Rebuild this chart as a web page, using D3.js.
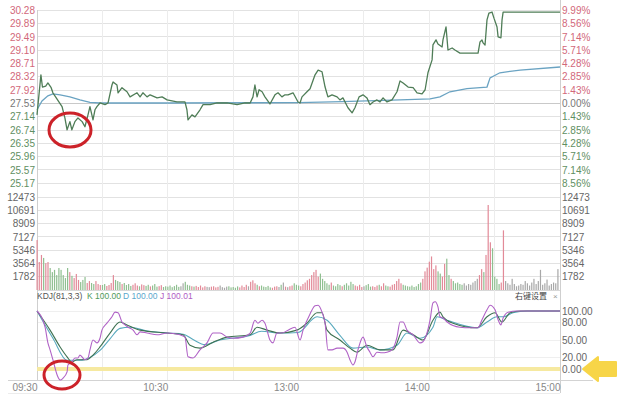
<!DOCTYPE html>
<html><head><meta charset="utf-8">
<script src="https://cdn.jsdelivr.net/npm/d3@7/dist/d3.min.js"></script>
<style>
html,body{margin:0;padding:0;background:#fff;}
svg{display:block;font-family:"Liberation Sans",Arial,sans-serif;}
</style></head>
<body><svg id="c" width="640" height="404"></svg>
<script>
// ---------- DATA ----------
const timeLabels = ["09:30","10:30","13:00","14:00","15:00"];
const timeTicks = [0,60,120,180,240];
const priceTicks = [30.28,29.89,29.49,29.10,28.71,28.32,27.92,27.53,27.14,26.74,26.35,25.96,25.57,25.17];
const pctLabels = ["9.99%","8.56%","7.14%","5.71%","4.28%","2.85%","1.43%","0.00%","1.43%","2.85%","4.28%","5.71%","7.14%","8.56%"];
const prevClose = 27.53;
const volTicks = [12473,10691,8909,7127,5346,3564,1782];
const kdjTicks = [100,80,50,20,0];
const kdjTickLabels = ["100.00","80.00","50.00","20.00","0.00"];
const kdjLegend = ["KDJ(81,3,3)","K 100.00","D 100.00","J 100.01"];

const priceMin = [0,1.8,2.5,4,5,6.5,7.3,11.5,12.8,13.8,15.1,16,17.4,18.8,20.7,22,23.4,24.3,25.7,26.6,27.5,28.9,31.2,32.6,34.4,34.9,36.7,37.2,39,41.3,42.7,45.9,47.3,48.6,50.5,51.9,55.1,57.4,59.7,64.2,67.9,68.8,69.3,71.1,72.5,74.8,76.2,79.4,82.6,87.2,91.8,95.5,97.8,99.1,100,101,101.9,103.3,104.6,106.9,109.2,110.6,112.4,113.8,115.2,117.5,119.8,120.7,121.6,123.9,125.3,127.6,129,130.8,132.2,133.5,135.4,137.7,139,140.4,142.7,144.6,145.9,147.8,149.6,151.4,152.8,154.2,156,157.4,158.8,160.6,162.9,165.2,166.6,168,170.3,172.6,174.4,176.7,178.1,179.4,181.3,181.7,183.1,184,185.9,186.3,187.7,188.6,190.5,191.8,194.1,197.3,202.4,203.3,204.2,204.7,205.6,206.5,207.4,208.8,209.7,211.1,211.6,212.9,213.4,213.9,240];
const priceVal = [27.19,28.37,28.01,28.04,28.13,27.99,27.84,27.43,27.10,26.75,26.99,26.75,26.99,27.10,26.99,26.84,27.19,27.43,27.04,27.34,27.43,27.54,27.49,27.54,28.07,28.16,28.07,27.84,27.99,27.87,27.72,27.84,27.72,27.84,27.72,27.78,27.69,27.72,27.63,27.57,27.57,27.34,27.04,27.19,27.13,27.34,27.49,27.49,27.54,27.54,27.49,27.54,27.54,27.72,28.07,27.72,27.93,27.87,27.72,27.51,27.78,27.84,27.72,27.78,27.78,27.84,27.57,27.54,27.72,27.87,27.96,28.37,28.51,28.46,28.01,27.72,27.78,27.72,27.63,27.69,27.40,27.25,27.40,27.72,27.78,27.69,27.49,27.57,27.63,27.57,27.69,27.57,27.63,27.87,28.19,28.13,28.01,27.99,27.84,27.81,27.93,28.43,28.81,29.25,29.40,29.28,29.19,29.40,29.78,29.10,29.16,29.10,29.01,29.01,29.01,29.34,29.40,29.31,29.25,29.99,30.19,30.22,30.04,29.78,29.49,29.46,29.99,30.22,30.22];

const avgMin = [0,2.3,5,7.3,10.6,15.1,19.7,24.3,28.9,60,120,140,166.6,180.4,184.9,189.5,197.3,203.3,206.5,207.9,212.4,221.7,240];
const avgVal = [27.34,27.60,27.75,27.81,27.78,27.72,27.63,27.56,27.54,27.54,27.55,27.58,27.63,27.66,27.72,27.87,27.96,27.99,28.01,28.28,28.43,28.51,28.60];

const volume = [
6700,3750,4700,4300,3600,3750,2950,2400,2700,2000,
2950,2700,2000,1600,2950,2400,1900,1600,2150,1350,
1070,1350,1750,940,1200,940,800,1200,800,670,
670,800,540,670,940,2000,1350,1200,1070,800,
940,670,800,540,700,900,600,500,750,650,
550,700,480,600,800,450,520,650,400,500,
450,600,380,520,700,420,500,900,1100,700,
600,500,450,550,400,600,350,500,420,380,
450,500,350,420,600,380,300,450,500,350,
400,300,480,350,600,400,700,500,1100,1300,
900,700,500,600,450,400,550,350,300,450,
500,400,700,1000,450,380,500,600,900,700,
600,500,800,1000,1300,1500,2000,2400,2700,1800,
2200,1500,1200,900,700,1000,600,500,800,650,
500,700,900,600,1100,800,600,500,700,400,
500,650,800,450,500,400,600,700,500,900,
600,500,450,700,800,1200,1500,900,700,600,
500,450,600,400,500,800,1000,1500,2500,3000,
3800,4500,2800,3300,2500,2200,1800,3500,4200,2000,
1500,1200,900,1000,800,700,900,600,800,700,
1000,1200,1500,2000,2800,2400,4700,11400,6400,5600,
1800,1500,800,1000,8000,1200,900,700,1500,800,
500,600,800,700,1200,900,600,1000,1500,800,
1200,2700,700,900,1400,600,800,1000,900,2800];

const jMin = [0,3.7,5,6,7.3,9.2,10.6,11.9,13.8,14.2,16,17.4,18.8,19.7,22,23.4,24.3,25.7,27.5,28.9,29.8,32.1,34.4,35.8,37.2,39,40.4,41.8,44.1,45.9,47.3,50.5,55.1,59.7,65.6,67.9,69.3,71.6,74.8,78,80.8,84,87.2,90,94.5,97.8,100,101.4,103.3,104.6,106.9,108.3,110.1,112.4,115.2,118.4,120.7,122.1,125.3,127.6,129,130.8,132.2,133.5,135.4,137.7,140.4,142.3,143.6,145,145.9,147.3,149.6,151.4,152.8,154.2,156,158.3,160.6,162.9,165.2,166.6,168,169.8,172.6,175.8,177.1,180.4,181.7,182.7,184,184.9,186.3,188.2,194.1,198.7,202.4,204.2,206.5,207.9,210.2,211.6,212.9,213.9,216.2,220.3,240];
const jVal = [100,72,45,33,16,-10,-19,-16,-5,7,12,19,19,24,16,19,33,50,45,53,67,79,90,98,97,81,76,72,67,59,64,62,59,62,59,55,21,19,33,45,62,62,55,53,55,62,84,79,84,79,50,45,62,62,67,72,50,67,95,109,110,98,79,33,33,36,36,29,16,7,12,33,55,38,29,21,29,28,29,33,55,81,81,67,59,45,47,85,114,116,107,90,88,81,72,71,71,85,102,110,102,85,76,88,98,100,100];
const kMin = [0,6,10.6,13.8,16,18.4,22.9,25.7,28.9,33.5,38.1,41.3,47.3,59.7,67,70.2,74.8,80.8,87.2,97.8,101,105.6,111.5,119.3,123.9,128.5,130.8,133.1,139,143.6,146.9,151.4,157.4,163.4,168,172.6,177.1,181.7,184.9,186.3,190.9,201.9,206.5,210.2,213.4,217.1,221.7,240];
const kVal = [100,67,38,21,12,16,16,24,38,62,81,76,67,62,59,41,36,46,55,59,72,67,62,67,79,97,97,67,50,36,29,41,33,33,67,59,50,84,98,90,79,71,90,97,81,97,100,100];
const dMin = [0,7.3,13.8,19.7,24.3,28.9,33.5,38.1,42.7,50,60,67,72,77,84,97.8,103,111.5,119.8,128.5,133.1,139,145,151.4,157.4,165.2,169.8,175.8,181.7,183.6,188.2,201.9,206.5,211.1,213.9,218.4,224.9,240];
const dVal = [100,53,15,15,20,32,52,70,72,66,62,60,50,42,50,58,65,62,63,90,84,58,36,38,33,41,62,53,72,90,84,71,81,90,90,97,100,100];

// ---------- DRAW ----------
const svg = d3.select("#c");
const L = 37, R = 560;
const x = d3.scaleLinear().domain([0,240]).range([L,R]);
const yP = d3.scaleLinear().domain([25.17,30.28]).range([183.4,10]);
const yV = d3.scaleLinear().domain([0,12473]).range([290,197]);
const yK = d3.scaleLinear().domain([0,100]).range([369,311]);

const upC = "#d2687a", dnC = "#5f8f62", grid = "#e2e2e2";

const g = svg.append("g");
priceTicks.forEach(v=>g.append("line").attr("x1",L).attr("x2",R).attr("y1",yP(v)).attr("y2",yP(v))
  .attr("stroke", v===prevClose ? "#c9c9c9" : grid).attr("stroke-width",1).attr("shape-rendering","crispEdges"));
g.append("line").attr("x1",L).attr("x2",R).attr("y1",yV(12473)+0.5).attr("y2",yV(12473)+0.5).attr("stroke",grid);
volTicks.slice(1).forEach(v=>g.append("line").attr("x1",L).attr("x2",R).attr("y1",yV(v)).attr("y2",yV(v))
  .attr("stroke",grid).attr("shape-rendering","crispEdges"));
g.append("line").attr("x1",L).attr("x2",R).attr("y1",yV(0)).attr("y2",yV(0)).attr("stroke","#d8d8d8").attr("shape-rendering","crispEdges");
kdjTicks.forEach(v=>g.append("line").attr("x1",L).attr("x2",R).attr("y1",yK(v)).attr("y2",yK(v))
  .attr("stroke","#efefef").attr("shape-rendering","crispEdges"));
[30,60,90,120,150,180,210].forEach(m=>g.append("line").attr("x1",x(m)).attr("x2",x(m)).attr("y1",10).attr("y2",380)
  .attr("stroke","#ececec").attr("shape-rendering","crispEdges"));
g.append("line").attr("x1",L).attr("x2",L).attr("y1",10).attr("y2",380).attr("stroke","#cfcfcf").attr("shape-rendering","crispEdges");
g.append("line").attr("x1",R).attr("x2",R).attr("y1",0).attr("y2",393).attr("stroke","#cfcfcf").attr("shape-rendering","crispEdges");
g.append("line").attr("x1",8).attr("x2",593).attr("y1",380).attr("y2",380).attr("stroke","#d3d3d3").attr("shape-rendering","crispEdges");
g.append("line").attr("x1",8).attr("x2",R).attr("y1",393).attr("y2",393).attr("stroke","#ececec").attr("shape-rendering","crispEdges");

function styleAxis(sel){ sel.select(".domain").remove(); sel.selectAll("line").remove();
  sel.selectAll("text").attr("font-size",10).attr("font-family","'Liberation Sans',Arial,sans-serif"); }
const colorFor = v => v>prevClose ? upC : (v<prevClose ? dnC : "#777");
svg.append("g").attr("transform",`translate(${L-2},0)`)
  .call(d3.axisLeft(yP).tickValues(priceTicks).tickFormat(d3.format(".2f")).tickSize(0).tickPadding(0))
  .call(styleAxis).selectAll("text").attr("fill",d=>colorFor(d));
svg.append("g").attr("transform",`translate(${R+2},0)`)
  .call(d3.axisRight(yP).tickValues(priceTicks).tickFormat((d,i)=>pctLabels[i]).tickSize(0).tickPadding(0))
  .call(styleAxis).selectAll("text").attr("fill",d=>colorFor(d));
svg.append("g").attr("transform",`translate(${L-2},0)`)
  .call(d3.axisLeft(yV).tickValues(volTicks).tickFormat(d3.format("d")).tickSize(0).tickPadding(0))
  .call(styleAxis).selectAll("text").attr("fill","#666");
svg.append("g").attr("transform",`translate(${R+2},0)`)
  .call(d3.axisRight(yV).tickValues(volTicks).tickFormat(d3.format("d")).tickSize(0).tickPadding(0))
  .call(styleAxis).selectAll("text").attr("fill","#666");
svg.append("g").attr("transform",`translate(${R+2},0)`)
  .call(d3.axisRight(yK).tickValues(kdjTicks).tickFormat((d,i)=>kdjTickLabels[i]).tickSize(0).tickPadding(0))
  .call(styleAxis).selectAll("text").attr("fill","#666");
const tax = svg.append("g").attr("transform",`translate(0,382)`)
  .call(d3.axisBottom(x).tickValues(timeTicks).tickFormat((d,i)=>timeLabels[i]).tickSize(0).tickPadding(0))
  .call(styleAxis);
tax.selectAll("text").attr("fill","#888").attr("text-anchor","end").attr("dy","0.9em");

const pAt = d3.scaleLinear().domain(priceMin).range(priceVal);
svg.append("g").selectAll("rect").data(volume).join("rect")
  .attr("x",(d,i)=>x(i)-0.5).attr("width",1.2)
  .attr("y",d=>yV(d)).attr("height",d=>yV(0)-yV(d))
  .attr("fill",(d,i)=>{ if(i===0) return "#e28a98"; const a=pAt(i), b=pAt(i-1);
     return a>b+0.001 ? "#e28a98" : (a<b-0.001 ? "#8fbf90" : "#a8a8a8"); });

const line = d3.line().x(d=>x(d[0])).y(d=>yP(d[1]));
svg.append("path").datum(avgMin.map((m,i)=>[m,avgVal[i]])).attr("d",line)
  .attr("fill","none").attr("stroke","#6aa3c2").attr("stroke-width",1.3);
svg.append("path").datum(priceMin.map((m,i)=>[m,priceVal[i]])).attr("d",line)
  .attr("fill","none").attr("stroke","#4f7d57").attr("stroke-width",1.3).attr("stroke-linejoin","round");

svg.append("rect").attr("x",L).attr("width",R-L).attr("y",yK(0)-2).attr("height",4).attr("fill","#f6e9a0");
const kl = d3.line().x(d=>x(d[0])).y(d=>yK(d[1])).curve(d3.curveMonotoneX);
svg.append("path").datum(dMin.map((m,i)=>[m,dVal[i]])).attr("d",kl).attr("fill","none").attr("stroke","#58a9bd").attr("stroke-width",1.1);
svg.append("path").datum(kMin.map((m,i)=>[m,kVal[i]])).attr("d",kl).attr("fill","none").attr("stroke","#3f7252").attr("stroke-width",1.1);
svg.append("path").datum(jMin.map((m,i)=>[m,jVal[i]])).attr("d",kl).attr("fill","none").attr("stroke","#b062c6").attr("stroke-width",1.1);

// KDJ legend
const legX = [37,87,123,160], legC = ["#555","#4f9a5a","#5aa7cc","#b05cc4"];
kdjLegend.forEach((t,i)=>svg.append("text").attr("x",legX[i]).attr("y",299).attr("font-size",8.5)
  .attr("fill",legC[i]).text(t));
svg.append("text").attr("x",515).attr("y",299).attr("font-size",8).attr("fill","#444")
  .attr("font-family","'Noto Sans CJK SC',sans-serif").text("右键设置");
svg.append("text").attr("x",553).attr("y",299).attr("font-size",8).attr("fill","#999").text("×");

svg.append("ellipse").attr("cx",70).attr("cy",130).attr("rx",21).attr("ry",17)
  .attr("fill","none").attr("stroke","#cc2229").attr("stroke-width",3);
svg.append("ellipse").attr("cx",62).attr("cy",375).attr("rx",18).attr("ry",14)
  .attr("fill","none").attr("stroke","#cc2229").attr("stroke-width",3);
svg.append("path").attr("d","M583,369 L598,357 L598,362 L616,362 L616,376 L598,376 L598,381 Z")
  .attr("fill","#f7d548").attr("stroke","#f7d548").attr("stroke-width",2).attr("stroke-linejoin","round");
</script></body></html>
